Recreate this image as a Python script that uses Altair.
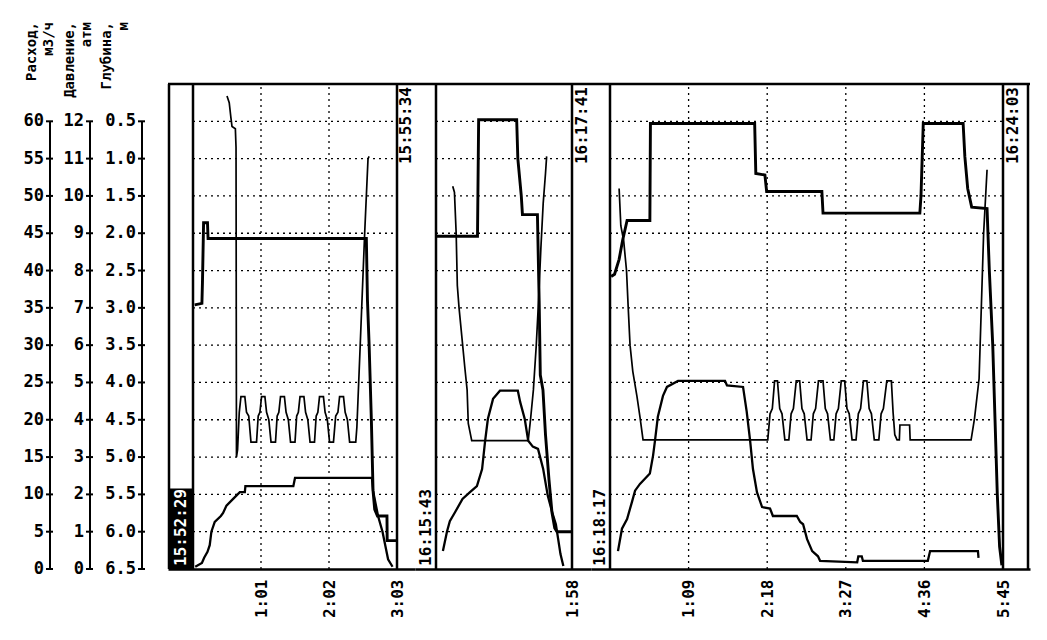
import altair as alt
import pandas as pd

# ---------------- data ----------------
FLOW_TICKS = [0, 5, 10, 15, 20, 25, 30, 35, 40, 45, 50, 55, 60]
PRESS_TICKS = [0, 1, 2, 3, 4, 5, 6, 7, 8, 9, 10, 11, 12]
DEPTH_TICKS = [0.5, 1.0, 1.5, 2.0, 2.5, 3.0, 3.5, 4.0, 4.5, 5.0, 5.5, 6.0, 6.5]
GRID_Y = [5, 10, 15, 20, 25, 30, 35, 40, 45, 50, 55, 60]

AXIS_TITLES = ["Расход,\nм3/ч", "Давление,\nатм", "Глубина,\nм"]

PANEL_END = [183, 118, 345]                      # seconds
PANEL_TICKS = [[61, 122, 183], [118], [69, 138, 207, 276, 345]]
START_LABELS = ["15:52:29", "16:15:43", "16:18:17"]
END_LABELS = ["15:55:34", "16:17:41", "16:24:03"]

# panel 1
STEP_1 = [(1.5, 35.4), (8, 35.6), (8.5, 38.5), (9.5, 46.4), (13, 46.4), (13.5, 44.3),
          (155.5, 44.3), (156.5, 36), (158, 30), (160, 20), (161.5, 10.5), (163, 8),
          (165.5, 7.1), (174, 7.1), (174.2, 3.8), (183, 3.8)]
RISE_1 = [(2, 0.3), (8, 0.8), (10, 1.5), (13, 2.3), (15, 3.2), (16.5, 5.0), (19.5, 6.3),
          (25, 7.1), (27, 7.5), (30, 8.5), (36, 9.4), (42, 10.3), (46.5, 10.3), (47, 11.1),
          (90, 11.1), (91.5, 12.2), (160.5, 12.2), (161.5, 10.5), (166, 7.1), (170, 5.0),
          (175, 1.3), (179, 0.3)]
WAVE_1 = [(30.5, 63.4), (32.5, 62.5), (34, 60.5), (35, 59.3), (38, 59.0), (38.6, 56.5),
          (39, 15.0), (40, 16), (41.5, 21), (43, 23.1), (46.5, 23.1), (48, 21), (50, 20.5),
          (52, 17.0), (57, 17.0), (58.5, 20.5), (60, 21), (61.5, 23.1), (64.5, 23.1),
          (66, 21), (68, 20), (70, 17.0), (74, 17.0), (75.5, 20.5), (77, 21), (78.5, 23.1),
          (82, 23.1), (83.5, 21), (85.5, 20), (87.5, 17), (91.5, 17), (93, 20.5), (94.5, 21),
          (96, 23.1), (99.5, 23.1), (101, 21), (103, 20), (105, 17), (109, 17), (110.5, 20.5),
          (112, 21), (113.5, 23.1), (117, 23.1), (118.5, 21), (120.5, 20), (122.5, 17),
          (126, 17), (128, 20.5), (130, 21), (131.5, 23.1), (135, 23.1), (136.5, 21),
          (138.5, 20), (140.5, 17), (146, 17), (147, 19), (150, 30), (154, 45), (157, 55),
          (158, 55.3)]

# panel 2
STEP_2 = [(0.5, 44.6), (36, 44.6), (37, 60.2), (70, 60.2), (71, 55), (74, 50), (75, 47.5),
          (88, 47.5), (89.5, 36), (90.5, 26), (92.8, 24), (95, 18), (98, 12), (100.6, 7.6),
          (103, 5.5), (105, 5.0), (118, 5.0)]
RISE_2 = [(6, 2.4), (9.5, 5.0), (12, 6.4), (16.5, 7.6), (23, 9.4), (29.5, 10.3), (35.5, 11.1),
          (40, 13.4), (42.5, 17.0), (45, 20.1), (49.5, 22.8), (55.5, 23.9), (71, 23.9),
          (73, 22.4), (77, 20.1), (80, 17.2), (84, 16.4), (88.5, 16.1), (93, 13.4), (97, 9.8),
          (101, 7.5), (104, 6), (106, 4), (108, 2), (110.5, 0.4)]
WAVE_2 = [(14.5, 51.3), (16, 50.5), (17.5, 45), (18.5, 38), (20, 35), (22.5, 31), (25, 27),
          (27, 24), (28, 19.5), (31, 17.2), (80, 17.2), (82, 20), (84.5, 24), (87, 30),
          (89, 36), (91, 43), (93, 49), (95, 53), (96, 55.3)]

# panel 3
STEP_3 = [(1, 39.2), (4, 39.5), (8, 41.5), (11, 44), (15, 46.7), (35, 46.7), (35.5, 59.7),
          (127, 59.7), (128, 53), (136, 52.8), (137.5, 50.6), (186, 50.6), (187, 47.7),
          (272, 47.7), (273, 50), (275, 59.7), (310, 59.7), (311.5, 55.3), (314, 51),
          (317.5, 48.5), (331, 48.3), (333, 40), (336, 30), (338, 20), (340, 10), (342, 3),
          (344, 0.5)]
RISE_3 = [(7, 2.4), (10.5, 5.4), (15, 6.7), (19.3, 9.0), (22, 10.5), (26.3, 11.4), (35, 12.8),
          (37.8, 15.2), (39.5, 17.2), (42, 20.4), (46.5, 23.2), (50, 24.4), (59.7, 25.2),
          (101, 25.2), (102.7, 24.6), (116.8, 24.4), (120, 21.1), (123, 17.2), (125.5, 13.4),
          (129, 10.3), (133.5, 8.3), (140.5, 8.1), (143, 7.1), (164, 7.1), (167, 6.3),
          (169.5, 6.0), (173, 4.0), (177.5, 2.4), (182.6, 1.7), (184.4, 1.1), (217, 0.9),
          (218, 1.7), (221, 1.7), (222, 1.1), (279, 1.1), (281, 2.4), (323, 2.4), (323.5, 1.5)]
WAVE_3 = [(8, 51), (9.5, 46), (12, 44), (14.5, 40), (16, 35), (17.6, 30), (20, 26.5),
          (23.7, 23.1), (26.3, 20.4), (29, 17.3), (138.5, 17.3), (140.5, 20.8), (142.5, 21.5),
          (144.5, 25.2), (147, 25.2), (149, 21.5), (151, 20.8), (153.5, 17.3), (157, 17.3),
          (159, 20.8), (161, 21.5), (163.5, 25.2), (166.5, 25.2), (168.5, 21.5), (170.5, 20.8),
          (173, 17.3), (176.5, 17.3), (178.5, 20.8), (180.5, 21.5), (183, 25.2), (187, 25.2),
          (189, 21.5), (191, 20.8), (193.5, 17.3), (196.5, 17.3), (198.5, 20.8), (200.5, 21.5),
          (203, 25.2), (206, 25.2), (208, 21.5), (210, 20.8), (212.5, 17.3), (216, 17.3),
          (218, 20.8), (220, 21.5), (222.5, 25.2), (225.5, 25.2), (227.5, 21.5), (229.5, 20.8),
          (232, 17.3), (236, 17.3), (238, 20.8), (240, 21.5), (243, 25.2), (247, 25.2),
          (248.5, 21), (250, 18), (252, 17.3), (254, 17.3), (254.5, 19.3), (263, 19.3),
          (263.5, 17.3), (317, 17.3), (320, 20.2), (324, 25.5), (328, 45), (331, 53.5)]

SERIES = [(STEP_1, RISE_1, WAVE_1), (STEP_2, RISE_2, WAVE_2), (STEP_3, RISE_3, WAVE_3)]

# ---------------- layout / style ----------------
FONT = "DejaVu Sans Mono"
H = 485
PANEL_W = [247, 176, 439]
PANEL_LEFT = [25, 21, 19]        # px from panel edge to time 0
PANEL_RIGHT = [229, 157, 412]    # px from panel edge to panel end time
START_DY = [-12, -10, -10]
END_DY = [9, 10, 10]
AXIS_PX = [-118, -78, -26]       # left axis lines, px from plot edge
TITLE_PX = [-143, -105, -68]     # left edge of the rotated axis titles
TITLE_TOP_PX = -62
Y_MAX = 65
DOT = [2, 4]

ys = alt.Scale(domain=[0, Y_MAX], nice=False, zero=False)
one = pd.DataFrame({"k": [0]})


def pts(series):
    return pd.DataFrame({"t": [p[0] for p in series], "v": [p[1] for p in series],
                         "i": list(range(len(series)))})


def panel(i):
    t_end = PANEL_END[i]
    W = PANEL_W[i]
    k = (PANEL_RIGHT[i] - PANEL_LEFT[i]) / t_end
    dmin = -PANEL_LEFT[i] / k
    dmax = t_end + (W - PANEL_RIGHT[i]) / k
    xs = alt.Scale(domain=[dmin, dmax], nice=False, zero=False)
    xaxis = alt.Axis(values=PANEL_TICKS[i],
                     labelExpr="floor(datum.value/60) + ':' + (datum.value % 60 < 10 ? '0' : '') + (datum.value % 60)",
                     labelAngle=270, ticks=False, grid=False, domain=True,
                     domainColor="black", domainWidth=2.5, title=None,
                     labelFont=FONT, labelFontSize=16, labelFontWeight="bold",
                     labelColor="black", labelPadding=10, labelOverlap=False,
                     labelFlush=False, labelBound=False)

    def XD(d):
        return alt.X(datum=d, scale=xs, axis=xaxis)

    def YD(d):
        return alt.Y(datum=d, scale=ys, axis=None)

    def XF(f):
        return alt.X(f, scale=xs, axis=xaxis)

    def YF(f):
        return alt.Y(f, scale=ys, axis=None)

    layers = []
    # horizontal dotted grid
    layers.append(alt.Chart(pd.DataFrame({"gy": GRID_Y})).mark_rule(
        color="black", strokeWidth=1.3, strokeDash=DOT).encode(
        x=XD(0), x2=alt.X2(datum=t_end), y=YF("gy:Q")))
    gx = [t for t in PANEL_TICKS[i] if t < t_end]
    if gx:
        layers.append(alt.Chart(pd.DataFrame({"gx": gx})).mark_rule(
            color="black", strokeWidth=1.3, strokeDash=DOT).encode(
            x=XF("gx:Q"), y=YD(0), y2=alt.Y2(datum=Y_MAX)))
    # panel borders
    layers.append(alt.Chart(pd.DataFrame({"bx": [0, t_end]})).mark_rule(
        color="black", strokeWidth=2.5).encode(
        x=XF("bx:Q"), y=YD(0), y2=alt.Y2(datum=Y_MAX)))
    # outer frame (top, and left / right ends)
    layers.append(alt.Chart(one).mark_rule(color="black", strokeWidth=2.5).encode(
        x=XD(dmin), x2=alt.X2(datum=dmax), y=YD(Y_MAX)))
    if i == 0:
        layers.append(alt.Chart(one).mark_rule(color="black", strokeWidth=2.5).encode(
            x=alt.value(1), y=YD(0), y2=alt.Y2(datum=Y_MAX)))
    if i == 2:
        layers.append(alt.Chart(one).mark_rule(color="black", strokeWidth=2.5).encode(
            x=alt.value(W - 2), y=YD(0), y2=alt.Y2(datum=Y_MAX)))
        # right frame also as a label-less right axis line
        layers.append(alt.Chart(one).mark_point(opacity=0).encode(
            x=XD(t_end),
            y=alt.Y(datum=0, scale=ys,
                    axis=alt.Axis(orient="right", labels=False, ticks=False, grid=False,
                                  title=None, domain=True, domainColor="black",
                                  domainWidth=2.5))))

    # series
    step, rise, wave = SERIES[i]
    for s, w in ((wave, 1.7), (rise, 2.3), (step, 2.9)):
        layers.append(alt.Chart(pts(s)).mark_line(color="black", strokeWidth=w).encode(
            x=XF("t:Q"), y=YF("v:Q"), order="i:Q"))

    # time stamps
    start_color = "black"
    if i == 0:
        layers.append(alt.Chart(one).mark_rect(color="black").encode(
            x=XD(dmin), x2=alt.X2(datum=0), y=YD(0), y2=alt.Y2(datum=10.8)))
        start_color = "white"
    layers.append(alt.Chart(pd.DataFrame({"s": [START_LABELS[i]]})).mark_text(
        angle=270, align="left", baseline="middle", dx=3, dy=START_DY[i], font=FONT,
        fontSize=16, fontWeight="bold", color=start_color).encode(
        x=XD(0), y=YD(0), text="s:N"))
    layers.append(alt.Chart(pd.DataFrame({"s": [END_LABELS[i]]})).mark_text(
        angle=270, align="right", baseline="middle", dx=-3, dy=END_DY[i], font=FONT,
        fontSize=16, fontWeight="bold", color="black").encode(
        x=XD(t_end), y=YD(Y_MAX), text="s:N"))

    if i == 0:
        # three left value axes, all sharing the plot's vertical scale (0..65 flow units)
        def to_t(px):
            return dmin + px / k

        axis_specs = [
            (FLOW_TICKS, lambda v: v, lambda v: f"{v:d}"),
            (PRESS_TICKS, lambda v: v * 5, lambda v: f"{v:d}"),
            (DEPTH_TICKS, lambda v: (6.5 - v) * 10, lambda v: f"{v:.1f}"),
        ]
        rows = []
        for j, (ticks, conv, fmt) in enumerate(axis_specs):
            for v in ticks:
                rows.append({"ax": to_t(AXIS_PX[j]), "ax0": to_t(AXIS_PX[j] - 4),
                             "ax1": to_t(AXIS_PX[j] + 3), "y": conv(v), "lab": fmt(v)})
        tick_df = pd.DataFrame(rows)
        line_df = pd.DataFrame({"ax": [to_t(p) for p in AXIS_PX]})
        title_df = pd.DataFrame({"tx": [to_t(p) for p in TITLE_PX], "title": AXIS_TITLES})
        title_y = Y_MAX - TITLE_TOP_PX * Y_MAX / H

        layers.append(alt.Chart(line_df).mark_rule(color="black", strokeWidth=2).encode(
            x=XF("ax:Q"), y=YD(0), y2=alt.Y2(datum=60)))
        layers.append(alt.Chart(tick_df).mark_rule(color="black", strokeWidth=2).encode(
            x=XF("ax0:Q"), x2="ax1:Q", y=YF("y:Q")))
        layers.append(alt.Chart(tick_df).mark_text(
            align="right", baseline="middle", dx=-6, font=FONT, fontSize=17,
            fontWeight="bold", color="black").encode(
            x=XF("ax:Q"), y=YF("y:Q"), text="lab:N"))
        layers.append(alt.Chart(title_df).mark_text(
            angle=270, align="right", baseline="top", font=FONT, fontSize=14,
            fontWeight="bold", color="black", lineBreak="\n", lineHeight=17).encode(
            x=XF("tx:Q"), y=YD(title_y), text="title:N"))

    return alt.layer(*layers).properties(width=W, height=H)


chart = alt.hconcat(panel(0), panel(1), panel(2), spacing=0, bounds="flush").properties(
    padding={"left": 15, "top": 14, "right": 2, "bottom": 0},
    background="white",
).configure_view(stroke=None)

chart.save("out.html", embed_options={"renderer": "svg", "actions": False})
